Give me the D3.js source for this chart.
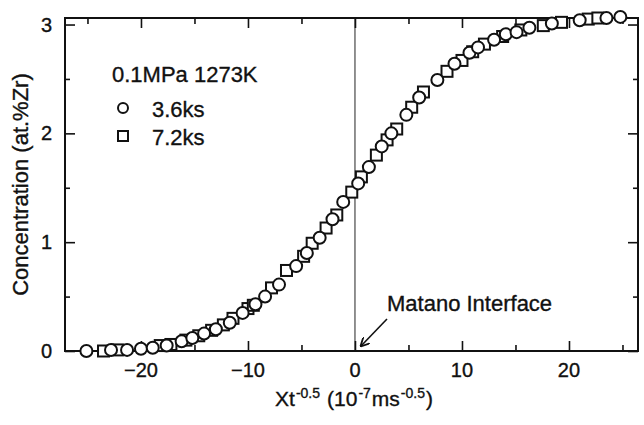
<!DOCTYPE html>
<html>
<head>
<meta charset="utf-8">
<script src="https://cdn.jsdelivr.net/npm/d3@7"></script>
<style>
  html, body { margin: 0; padding: 0; background: #fff; }
  svg { display: block; }
  text { font-family: "Liberation Sans", Arial, Helvetica, sans-serif; fill: #111; stroke: #111; stroke-width: 0.35px; white-space: pre; }
</style>
</head>
<body>
<svg id="chart" width="644" height="425"></svg>
<script>
// ---- data ----
const series36X = [-25.1,-22.8,-21.3,-20.0,-18.9,-17.6,-16.2,-15.2,-14.1,-13.0,-11.7,-10.5,-9.3,-8.4,-7.1,-5.5,-4.5,-3.3,-2.1,-1.1,0.3,1.3,2.5,3.4,4.8,6.0,7.7,9.3,10.7,11.5,13.0,14.1,15.1,16.3,18.4,21.0,23.5,24.8];
const series36Y = [0.00,0.01,0.01,0.02,0.03,0.05,0.09,0.12,0.16,0.20,0.26,0.35,0.43,0.50,0.61,0.78,0.90,1.04,1.21,1.37,1.54,1.69,1.88,2.00,2.17,2.33,2.49,2.64,2.74,2.79,2.86,2.91,2.93,2.97,3.01,3.04,3.06,3.07];
const series72X = [-23.5,-22.2,-18.2,-17.2,-15.8,-14.6,-13.4,-12.3,-11.4,-10.0,-9.5,-7.8,-6.4,-4.8,-4.0,-2.7,-1.7,-0.3,0.6,2.0,3.0,3.9,5.3,6.4,8.6,10.0,11.0,12.1,13.8,15.5,17.6,19.3,21.8,22.7];
const series72Y = [0.00,0.01,0.05,0.06,0.10,0.14,0.19,0.24,0.30,0.39,0.42,0.58,0.74,0.87,0.99,1.13,1.25,1.46,1.60,1.80,1.94,2.04,2.24,2.38,2.57,2.67,2.75,2.82,2.89,2.95,2.99,3.02,3.05,3.06];
const xMajorTicks = [-20, -10, 0, 10, 20];
const xMinorTicks = [-25, -15, -5, 5, 15, 25];
const yMajorTicks = [0, 1, 2, 3];
const yMinorTicks = [0.5, 1.5, 2.5];
const legendTitle = "0.1MPa 1273K";
const seriesNames = ["3.6ks", "7.2ks"];
const yTitle = "Concentration (at.%Zr)";
const annotationText = "Matano Interface";

// ---- layout ----
const L = 65, R = 638, T = 18, B = 351;
const svg = d3.select("#chart");
const x = d3.scaleLinear().domain([-27.1, 26.45]).range([L, R]);
const y = d3.scaleLinear().domain([0, 3.06]).range([B, T]);

// Matano interface line at x = 0
svg.append("line")
  .attr("x1", x(0)).attr("x2", x(0)).attr("y1", T).attr("y2", B)
  .attr("stroke", "#222").attr("stroke-width", 1);

// axes with inward ticks
const fmt = d => d3.format("")(d).replace("-", "\u2212");
const gB = svg.append("g").attr("transform", `translate(0,${B})`);
gB.call(d3.axisTop(x).tickValues(xMajorTicks).tickSize(10).tickFormat(""));
gB.call(g => g.append("g").call(d3.axisTop(x).tickValues(xMinorTicks).tickSize(6).tickFormat("")));
const gT = svg.append("g").attr("transform", `translate(0,${T})`);
gT.call(d3.axisBottom(x).tickValues(xMajorTicks).tickSize(10).tickFormat(""));
gT.call(g => g.append("g").call(d3.axisBottom(x).tickValues(xMinorTicks).tickSize(6).tickFormat("")));
const gL = svg.append("g").attr("transform", `translate(${L},0)`);
gL.call(d3.axisRight(y).tickValues(yMajorTicks).tickSize(10).tickFormat(""));
gL.call(g => g.append("g").call(d3.axisRight(y).tickValues(yMinorTicks).tickSize(5).tickFormat("")));
const gR = svg.append("g").attr("transform", `translate(${R},0)`);
gR.call(d3.axisLeft(y).tickValues(yMajorTicks).tickSize(10).tickFormat(""));
gR.call(g => g.append("g").call(d3.axisLeft(y).tickValues(yMinorTicks).tickSize(5).tickFormat("")));
svg.selectAll(".domain").remove();
svg.selectAll(".tick line").attr("stroke", "#111").attr("stroke-width", 1.6);

// frame
svg.append("rect").attr("x", L).attr("y", T).attr("width", R - L).attr("height", B - T)
  .attr("fill", "none").attr("stroke", "#111").attr("stroke-width", 2);

// tick labels
svg.append("g").selectAll("text").data(xMajorTicks).join("text")
  .attr("x", d => x(d)).attr("y", 377).attr("text-anchor", "middle")
  .attr("font-size", 20).text(fmt);
svg.append("g").selectAll("text").data(yMajorTicks).join("text")
  .attr("x", 52).attr("y", d => y(d) + 7).attr("text-anchor", "end")
  .attr("font-size", 20).text(fmt);

// axis titles
svg.append("text").attr("transform", `translate(28,${(T + B) / 2}) rotate(-90)`)
  .attr("text-anchor", "middle").attr("font-size", 22).text(yTitle);
const xt = svg.append("text").attr("x", 354).attr("y", 406).attr("text-anchor", "middle").attr("font-size", 21);
xt.append("tspan").text("Xt");
xt.append("tspan").attr("font-size", 14).attr("dx", 1).attr("dy", -8).text("-0.5");
xt.append("tspan").attr("dx", 7).attr("dy", 8).text("(10");
xt.append("tspan").attr("font-size", 14).attr("dx", 1).attr("dy", -8).text("-7");
xt.append("tspan").attr("dx", 1).attr("dy", 8).text("ms");
xt.append("tspan").attr("font-size", 14).attr("dx", 1).attr("dy", -8).text("-0.5");
xt.append("tspan").attr("dx", 1).attr("dy", 8).text(")");

// data: squares (7.2ks) then circles (3.6ks)
const sq = 11;
const d72 = series72X.map((v, i) => [v, series72Y[i]]);
const d36 = series36X.map((v, i) => [v, series36Y[i]]);
svg.append("g").selectAll("rect").data(d72).join("rect")
  .attr("x", d => x(d[0]) - sq / 2).attr("y", d => y(d[1]) - sq / 2)
  .attr("width", sq).attr("height", sq)
  .attr("fill", "#fff").attr("stroke", "#111").attr("stroke-width", 2);
svg.append("g").selectAll("circle").data(d36).join("circle")
  .attr("cx", d => x(d[0])).attr("cy", d => y(d[1])).attr("r", 6)
  .attr("fill", "#fff").attr("stroke", "#111").attr("stroke-width", 2);

// legend
svg.append("text").attr("x", 112).attr("y", 82).attr("font-size", 22).text(legendTitle);
svg.append("circle").attr("cx", 123).attr("cy", 108).attr("r", 5)
  .attr("fill", "#fff").attr("stroke", "#111").attr("stroke-width", 2);
svg.append("text").attr("x", 152).attr("y", 117).attr("font-size", 22).text(seriesNames[0]);
svg.append("rect").attr("x", 118).attr("y", 131).attr("width", 10).attr("height", 10)
  .attr("fill", "#fff").attr("stroke", "#111").attr("stroke-width", 2);
svg.append("text").attr("x", 152).attr("y", 145).attr("font-size", 22).text(seriesNames[1]);

// annotation
svg.append("text").attr("x", 387).attr("y", 311).attr("font-size", 22).text(annotationText);
const defs = svg.append("defs");
defs.append("marker").attr("id", "arr").attr("viewBox", "0 0 10 10")
  .attr("refX", 9).attr("refY", 5).attr("markerWidth", 9).attr("markerHeight", 9)
  .attr("orient", "auto").attr("markerUnits", "userSpaceOnUse")
  .append("path").attr("d", "M0,0 L10,5 L0,10").attr("fill", "none").attr("stroke", "#111").attr("stroke-width", 2);
svg.append("line").attr("x1", 387).attr("y1", 319).attr("x2", 361).attr("y2", 346)
  .attr("stroke", "#111").attr("stroke-width", 1.6).attr("marker-end", "url(#arr)");
</script>
</body>
</html>
